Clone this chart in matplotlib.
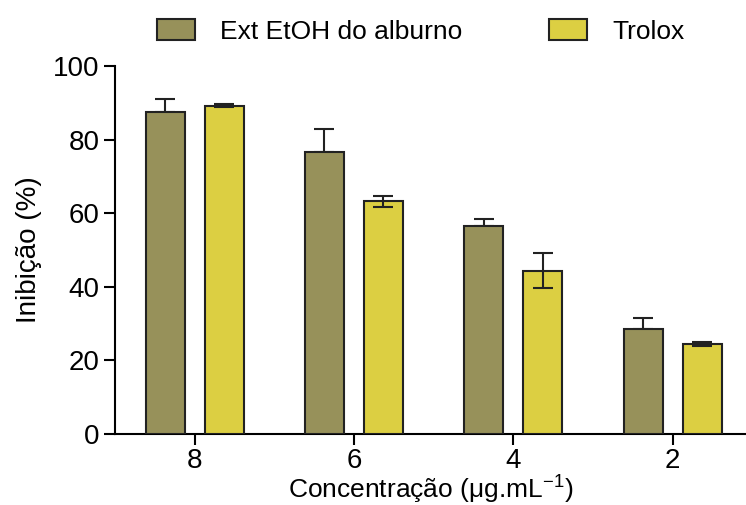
import numpy as np
from matplotlib import pyplot as plt

plt.rcParams['font.family'] = ['Liberation Sans', 'DejaVu Sans']

conc_labels = ['8', '6', '4', '2']
extrato = [87.6, 76.6, 56.4, 28.5]
extrato_err = [3.6, 6.2, 1.9, 2.9]
trolox = [89.2, 63.2, 44.4, 24.4]
trolox_err = [0.4, 1.6, 4.7, 0.5]

olive = '#97915a'
yellow = '#dccf42'

fig = plt.figure(figsize=(7.46, 5.05), dpi=100)
ax = fig.add_axes([0.154, 0.141, 0.846, 0.728])

x = np.arange(len(conc_labels))
w = 0.245
off = 0.185

ax.bar(x - off, extrato, w, color=olive, edgecolor='#222222', linewidth=1.5,
       label='Ext EtOH do alburno', zorder=3)
ax.bar(x + off, trolox, w, color=yellow, edgecolor='#222222', linewidth=1.5,
       label='Trolox', zorder=3)
ax.errorbar(x - off, extrato, yerr=[np.zeros(4), extrato_err], fmt='none',
            ecolor='#222222', elinewidth=1.5, capsize=7.5, capthick=1.5, zorder=2)
ax.errorbar(x + off, trolox, yerr=trolox_err, fmt='none',
            ecolor='#222222', elinewidth=1.5, capsize=7.5, capthick=1.5, zorder=4)

ax.set_xlim(-0.5, 3.46)
ax.set_ylim(0, 100)
ax.set_yticks([0, 20, 40, 60, 80, 100])
ax.set_xticks(x)
ax.set_xticklabels(conc_labels)
ax.spines['top'].set_visible(False)
ax.spines['right'].set_visible(False)
ax.spines['left'].set_linewidth(1.5)
ax.spines['bottom'].set_linewidth(1.5)
ax.tick_params(axis='both', length=8, width=1.5, labelsize=20, pad=3)
ax.tick_params(axis='x', pad=2)
ax.set_ylabel('Inibição (%)', fontsize=20, labelpad=8)
ax.set_xlabel('Concentração (μg.mL$^{\\mathregular{-1}}$)', fontsize=19, labelpad=-1)

fig.legend(loc='upper left', bbox_to_anchor=(0.178, 1.01), ncol=2, frameon=False,
           fontsize=19, handlelength=1.45, handleheight=0.87, handletextpad=0.95,
           columnspacing=3.3)

plt.savefig('out.png', dpi=100)
